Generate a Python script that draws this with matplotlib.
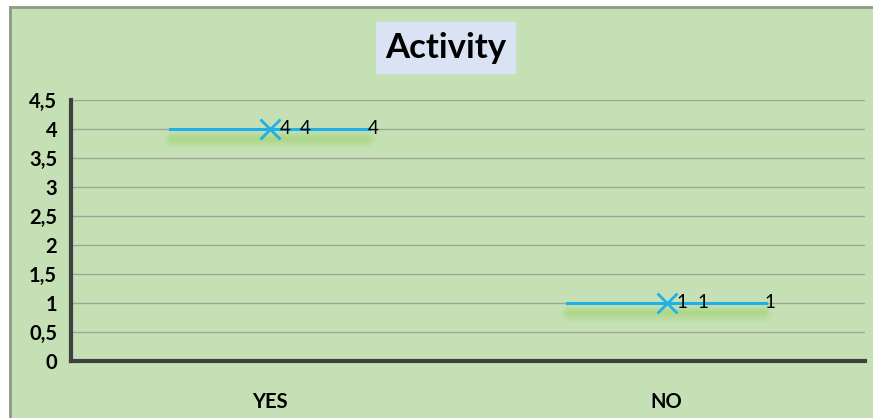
import matplotlib
matplotlib.use('Agg')
import matplotlib.pyplot as plt
from matplotlib.patches import Rectangle

plt.rcParams['font.family'] = ['Lato', 'DejaVu Sans']

categories = ['YES', 'NO']
values = [4, 1]
yticks = [0, 0.5, 1, 1.5, 2, 2.5, 3, 3.5, 4, 4.5]
ytick_labels = ['0', '0,5', '1', '1,5', '2', '2,5', '3', '3,5', '4', '4,5']

W, H = 873, 418
fig = plt.figure(figsize=(W / 100, H / 100), dpi=100)
fig.patch.set_facecolor('white')

bg = '#c5e0b4'
# chart area background with grey border on left and top
fig.patches.append(Rectangle((9 / W, 0), 1, 1 - 7 / H, transform=fig.transFigure,
                             facecolor=bg, edgecolor='none', zorder=-10))
fig.lines.append(plt.Line2D([9.5 / W, 9.5 / W], [0, 1 - 7 / H], transform=fig.transFigure,
                            color='#8f9a8a', lw=2, zorder=-5))
fig.lines.append(plt.Line2D([9.5 / W, 1], [1 - 7 / H, 1 - 7 / H], transform=fig.transFigure,
                            color='#8f9a8a', lw=2, zorder=-5))

ax = fig.add_axes([71 / W, (H - 361) / H, 794 / W, (361 - 100) / H])
ax.set_facecolor('none')
ax.set_xlim(-0.5, 1.5)
ax.set_ylim(0, 4.5)

for y in yticks[1:]:
    ax.axhline(y, color='#9ea59a', lw=1, zorder=1)

half = 0.25
for i, v in enumerate(values):
    # soft green shadow under the line
    for lw, a in [(12, 0.08), (9, 0.1), (6, 0.14), (3, 0.18)]:
        ax.plot([i - half + 0.005, i + half - 0.005], [v - 0.18, v - 0.18], color='#8fd14f', lw=lw,
                alpha=a, solid_capstyle='round', zorder=2)
    ax.plot([i - half, i + half], [v, v], color='#1fb0e8', lw=2.2, zorder=3)
    ax.plot(i, v, marker='x', color='#1fb0e8', ms=14, mew=2, zorder=4)
    ax.text(i + 0.025, v, str(v), fontsize=13.5, va='center', ha='left', zorder=5)
    ax.text(i + 0.077, v, str(v), fontsize=13.5, va='center', ha='left', zorder=5)
    ax.text(i + half - 0.003, v, str(v), fontsize=13.5, va='center', ha='left', zorder=5)

ax.set_xticks(range(len(categories)))
ax.set_xticklabels(categories, fontsize=14.5, fontweight='bold')
ax.set_yticks(yticks)
ax.set_yticklabels(ytick_labels, fontsize=14.5, fontweight='bold')
ax.tick_params(length=0)
ax.tick_params(axis='x', pad=22)
ax.tick_params(axis='y', pad=10)

for s in ['top', 'right']:
    ax.spines[s].set_visible(False)
for s in ['left', 'bottom']:
    ax.spines[s].set_color('#404040')
    ax.spines[s].set_linewidth(3)

fig.text(446 / W, 1 - 48 / H, 'Activity', fontsize=25, fontweight='bold', ha='center', va='center',
         bbox=dict(facecolor='#dae3f3', edgecolor='none', pad=7))

fig.savefig('out.png', dpi=100, facecolor=fig.get_facecolor())
